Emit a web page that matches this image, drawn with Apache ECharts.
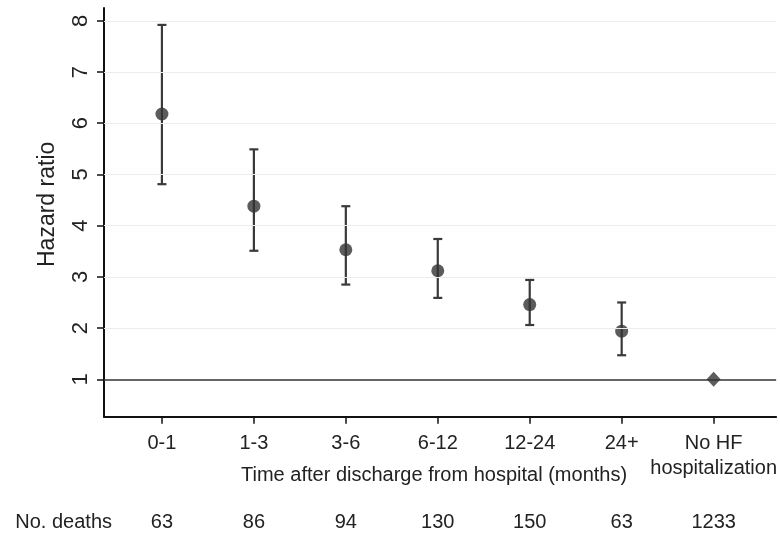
<!DOCTYPE html>
<html>
<head>
<meta charset="utf-8">
<script src="https://cdn.jsdelivr.net/npm/echarts@6/dist/echarts.min.js"></script>
<style>
html,body{margin:0;padding:0;background:#fff;}
#chart{width:780px;height:536px;}
</style>
</head>
<body>
<div id="chart"></div>
<script>
// ---- data ----
const categories = ['0-1', '1-3', '3-6', '6-12', '12-24', '24+', 'No HF\nhospitalization'];
const hazardRatio = [6.18, 4.38, 3.53, 3.12, 2.46, 1.94];
const lowerCI = [4.81, 3.51, 2.85, 2.59, 2.06, 1.47];
const upperCI = [7.92, 5.49, 4.38, 3.74, 2.94, 2.50];
const referenceHR = 1;
const deaths = [63, 86, 94, 130, 150, 63, 1233];
const yTicks = [1, 2, 3, 4, 5, 6, 7, 8];
const xPositions = [1, 2, 3, 4, 5, 6, 7];

// ---- build ----
const FONT = "'Liberation Sans', Arial, sans-serif";
const TXT = '#222';
const pointData = hazardRatio.map((v, i) => [xPositions[i], v]);
const barData = hazardRatio.map((v, i) => [xPositions[i], lowerCI[i], upperCI[i]]);
const refData = [[xPositions[6], referenceHR]];

const chart = echarts.init(document.getElementById('chart'), null, {renderer: 'canvas'});
chart.setOption({
  animation: false,
  backgroundColor: '#fff',
  textStyle: {fontFamily: FONT},
  grid: {left: 104, top: 8, right: 2, bottom: 119.3, containLabel: false},
  xAxis: [{
    type: 'value', min: 0.37, max: 7.68,
    splitLine: {show: false},
    axisLine: {show: true, onZero: false, lineStyle: {color: '#111', width: 2}},
    axisTick: {show: true, customValues: xPositions, length: 7, lineStyle: {color: '#111', width: 1.5}},
    axisLabel: {
      customValues: xPositions,
      formatter: v => categories[Math.round(v) - 1],
      fontSize: 20, lineHeight: 25, margin: 14, color: TXT, fontFamily: FONT
    },
    name: 'Time after discharge from hospital (months)',
    nameLocation: 'middle', nameGap: 49, nameMoveOverlap: false,
    nameTextStyle: {fontSize: 20, color: TXT, fontFamily: FONT, padding: [0, 12, 0, 0]}
  }, {
    type: 'value', min: 0.37, max: 7.68, position: 'bottom', offset: 106,
    splitLine: {show: false},
    axisLine: {show: false},
    axisTick: {show: false},
    axisLabel: {
      customValues: xPositions,
      formatter: v => String(deaths[Math.round(v) - 1]),
      fontSize: 20, margin: 0, verticalAlign: 'middle', color: TXT, fontFamily: FONT
    },
    name: 'No. deaths', nameLocation: 'start', nameGap: -8, nameMoveOverlap: false,
    nameTextStyle: {fontSize: 20, color: TXT, fontFamily: FONT, align: 'right', verticalAlign: 'middle'}
  }],
  yAxis: {
    type: 'value', min: 0.27, max: 8.25,
    splitLine: {show: false},
    axisLine: {show: true, onZero: false, lineStyle: {color: '#111', width: 2}},
    axisTick: {show: true, customValues: yTicks, length: 7, lineStyle: {color: '#111', width: 1.5}},
    axisLabel: {customValues: yTicks, rotate: 90, fontSize: 22, margin: 12, color: TXT, fontFamily: FONT},
    name: 'Hazard ratio', nameLocation: 'middle', nameGap: 45, nameMoveOverlap: false,
    nameTextStyle: {fontSize: 23, color: TXT, fontFamily: FONT, padding: [0, 0, 0, 16]}
  },
  series: [{
    type: 'scatter', data: [], silent: true,
    markLine: {
      silent: true, symbol: 'none', label: {show: false},
      lineStyle: {color: '#ececec', width: 1, type: 'solid'},
      data: yTicks.filter(t => t !== referenceHR).map(t => ({yAxis: t}))
    }
  }, {
    type: 'custom',
    data: barData,
    renderItem: function (params, api) {
      const x = api.value(0), lo = api.value(1), hi = api.value(2);
      const pLo = api.coord([x, lo]);
      const pHi = api.coord([x, hi]);
      const hw = 4.5;
      const st = {stroke: '#3a3a3a', lineWidth: 2.2};
      return {type: 'group', children: [
        {type: 'line', shape: {x1: pLo[0], y1: pLo[1], x2: pHi[0], y2: pHi[1]}, style: st},
        {type: 'line', shape: {x1: pHi[0] - hw, y1: pHi[1], x2: pHi[0] + hw, y2: pHi[1]}, style: st},
        {type: 'line', shape: {x1: pLo[0] - hw, y1: pLo[1], x2: pLo[0] + hw, y2: pLo[1]}, style: st}
      ]};
    },
    z: 3
  }, {
    type: 'scatter', data: pointData, symbol: 'circle', symbolSize: 13,
    itemStyle: {color: '#333'}, z: 4,
    markLine: {
      silent: true, symbol: 'none', label: {show: false},
      lineStyle: {color: '#333', width: 1.6, type: 'solid'},
      data: [{yAxis: referenceHR}]
    }
  }, {
    type: 'scatter', data: refData, symbol: 'diamond', symbolSize: [14, 15],
    itemStyle: {color: '#333'}, z: 5
  }]
});
</script>
</body>
</html>
